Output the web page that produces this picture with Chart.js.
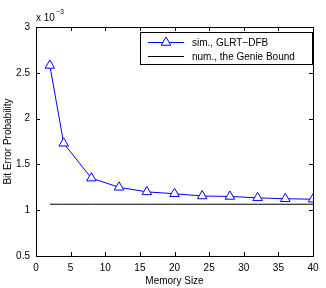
<!DOCTYPE html>
<html>
<head>
<meta charset="utf-8">
<script src="https://cdn.jsdelivr.net/npm/chart.js@4"></script>
<style>
  html, body { margin: 0; padding: 0; background: #fff; }
  #wrap { width: 326px; height: 288px; }
</style>
</head>
<body>
<div id="wrap"><canvas id="chart" width="326" height="288"></canvas></div>
<script>
const memorySizes = [2, 4, 8, 12, 16, 20, 24, 28, 32, 36, 40]
// bit error probability, in units of 1e-3
const simGlrtDfb = [2.58, 1.73, 1.35, 1.25, 1.2, 1.18, 1.155, 1.15, 1.135, 1.125, 1.12]
const genieBound = [1.065, 1.065, 1.065, 1.065, 1.065, 1.065, 1.065, 1.065, 1.065, 1.065, 1.065]
const seriesLabels = ['sim., GLRT\u2212DFB', 'num., the Genie Bound']
const xTicks = [0, 5, 10, 15, 20, 25, 30, 35, 40]
const yTicks = [0.5, 1, 1.5, 2, 2.5, 3]

const FONT = 'Liberation Sans, Arial, Helvetica, sans-serif'
Chart.defaults.font.family = FONT
Chart.defaults.font.size = 10
Chart.defaults.color = '#000'

const toPoints = (ys) => memorySizes.map((x, i) => ({ x, y: ys[i] }))

// box, inward ticks, exponent label and legend, matlab style
const matlabFrame = {
  id: 'matlabFrame',
  afterDraw (chart) {
    const { ctx, chartArea: a, scales } = chart
    ctx.save()
    ctx.strokeStyle = '#000'
    ctx.lineWidth = 1
    ctx.strokeRect(Math.round(a.left) + 0.5, Math.round(a.top) + 0.5, Math.round(a.right - a.left), Math.round(a.bottom - a.top))

    const len = 4
    ctx.beginPath()
    xTicks.forEach((v) => {
      const px = Math.round(scales.x.getPixelForValue(v)) + 0.5
      ctx.moveTo(px, a.bottom); ctx.lineTo(px, a.bottom - len)
      ctx.moveTo(px, a.top); ctx.lineTo(px, a.top + len)
    })
    yTicks.forEach((v) => {
      const py = Math.round(scales.y.getPixelForValue(v)) + 0.5
      ctx.moveTo(a.left, py); ctx.lineTo(a.left + len, py)
      ctx.moveTo(a.right, py); ctx.lineTo(a.right - len, py)
    })
    ctx.stroke()

    // exponent
    ctx.fillStyle = '#000'
    ctx.textBaseline = 'alphabetic'
    ctx.textAlign = 'left'
    ctx.font = '10px ' + FONT
    ctx.fillText('x 10', a.left, 21)
    const w = ctx.measureText('x 10').width
    ctx.font = '7px ' + FONT
    ctx.fillText('\u22123', a.left + w + 1, 14)

    // legend
    const lx = 140
    const ly = 32
    const lw = a.right - 1 - lx
    const lh = 32
    ctx.fillStyle = '#fff'
    ctx.fillRect(lx, ly, lw, lh)
    ctx.strokeRect(lx + 0.5, ly + 0.5, lw, lh)
    ctx.font = '10px ' + FONT
    ctx.textBaseline = 'middle'
    chart.data.datasets.forEach((ds, i) => {
      const y = Math.round(ly + 9.5 + i * 14.5) + 0.5
      ctx.strokeStyle = ds.borderColor
      ctx.beginPath()
      ctx.moveTo(148, y); ctx.lineTo(184, y)
      ctx.stroke()
      if (ds.pointRadius > 0) {
        ctx.fillStyle = '#fff'
        Chart.helpers.drawPoint(ctx, { pointStyle: 'triangle', radius: ds.pointRadius, borderWidth: 1 }, 166, y)
      }
      ctx.fillStyle = '#000'
      ctx.fillText(ds.label, 192, y + 1)
    })
    ctx.restore()
  }
}

const chart = new Chart(document.getElementById('chart').getContext('2d'), {
  type: 'line',
  data: {
    datasets: [
      {
        label: seriesLabels[0],
        data: toPoints(simGlrtDfb),
        borderColor: '#0000ff',
        borderWidth: 1,
        pointStyle: 'triangle',
        pointRadius: 5.5,
        pointBorderColor: '#0000ff',
        pointBackgroundColor: '#fff',
        pointBorderWidth: 1
      },
      {
        label: seriesLabels[1],
        data: toPoints(genieBound),
        borderColor: '#000',
        borderWidth: 1,
        pointRadius: 0
      }
    ]
  },
  options: {
    responsive: false,
    animation: false,
    events: [],
    layout: { padding: { top: 27, right: 13, left: 0, bottom: 0 } },
    plugins: { legend: { display: false }, tooltip: { enabled: false } },
    scales: {
      x: {
        type: 'linear',
        min: 0,
        max: 40,
        afterBuildTicks: (s) => { s.ticks = xTicks.map((v) => ({ value: v })) },
        afterFit: (s) => { s.height = 32 },
        grid: { display: false, drawTicks: false },
        border: { display: false },
        ticks: { padding: 6, maxRotation: 0, callback: (v) => String(v) },
        title: { display: true, text: 'Memory Size', padding: { top: 0, bottom: 1 } }
      },
      y: {
        type: 'linear',
        min: 0.5,
        max: 3,
        afterBuildTicks: (s) => { s.ticks = yTicks.map((v) => ({ value: v })) },
        afterFit: (s) => { s.width = 36 },
        grid: { display: false, drawTicks: false },
        border: { display: false },
        ticks: { padding: 6, callback: (v) => String(v) },
        title: { display: true, text: 'Bit Error Probability', padding: { top: 2, bottom: 0 } }
      }
    }
  },
  plugins: [matlabFrame]
})
</script>
</body>
</html>
